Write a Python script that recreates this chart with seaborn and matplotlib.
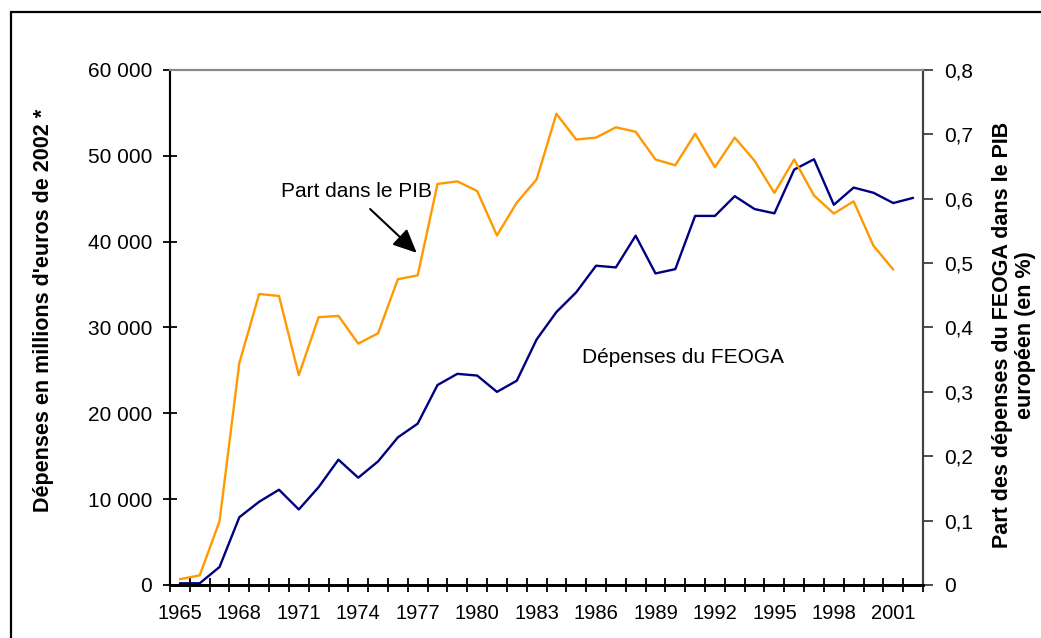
import matplotlib.pyplot as plt
import matplotlib.ticker as mticker
from matplotlib.patches import Rectangle
import numpy as np
import pandas as pd
import seaborn as sns

sns.set_theme(style="white")
plt.rcParams["font.family"] = ["Liberation Sans", "DejaVu Sans"]
plt.rcParams["text.color"] = "black"
plt.rcParams["xtick.color"] = "black"
plt.rcParams["ytick.color"] = "black"
plt.rcParams["axes.labelcolor"] = "black"

# data
years = list(range(1965, 2003))
depenses = [
    200, 200, 2100, 7900, 9700, 11100, 8800, 11400, 14600, 12500,
    14400, 17200, 18800, 23300, 24600, 24400, 22500, 23800, 28600, 31800,
    34100, 37200, 37000, 40700, 36300, 36800, 43000, 43000, 45300, 43800,
    43300, 48400, 49600, 44300, 46300, 45700, 44500, 45100,
]
part_pib = [
    0.009, 0.015, 0.099, 0.345, 0.452, 0.449, 0.326, 0.416, 0.418, 0.375,
    0.391, 0.475, 0.481, 0.623, 0.627, 0.612, 0.543, 0.594, 0.630, 0.732,
    0.692, 0.695, 0.711, 0.704, 0.661, 0.652, 0.701, 0.649, 0.695, 0.659,
    0.609, 0.661, 0.605, 0.577, 0.596, 0.527, 0.490, np.nan,
]
left_ticks = [0, 10000, 20000, 30000, 40000, 50000, 60000]
right_ticks = [0, 0.1, 0.2, 0.3, 0.4, 0.5, 0.6, 0.7, 0.8]
label_years = list(range(1965, 2002, 3))

df = pd.DataFrame({"annee": years, "depenses": depenses, "part": part_pib})

W, H = 1041, 638
fig = plt.figure(figsize=(W / 100, H / 100), dpi=100)
ax = fig.add_axes([170 / W, 1 - 585 / H, 753 / W, 515 / H])
ax2 = ax.twinx()

sns.lineplot(data=df, x="annee", y="depenses", ax=ax, color="#000080", lw=1.7, legend=False)
sns.lineplot(data=df.dropna(), x="annee", y="part", ax=ax2, color="#FF9900", lw=1.7, legend=False)

ax.set_xlim(years[0] - 0.5, years[-1] + 0.5)
ax.set_ylim(0, 60000)
ax2.set_ylim(0, 0.8)

# ticks between categories, labels at every third year
ax.set_xticks(np.arange(years[0] - 0.5, years[-1] + 1, 1.0))
ax.set_xticklabels([])
ax.set_xticks(label_years, minor=True)
ax.set_xticklabels([str(y) for y in label_years], minor=True)
ax.tick_params(axis="x", which="major", direction="inout", length=10, width=1.3, color="black", bottom=True)
ax.tick_params(axis="x", which="minor", length=0, pad=14, labelsize=14.5, bottom=True)

ax.set_yticks(left_ticks)
ax.yaxis.set_major_formatter(mticker.FuncFormatter(lambda v, p: f"{int(v):,}".replace(",", " ")))
ax.tick_params(axis="y", direction="inout", length=10, width=1.3, color="black", pad=8, labelsize=15, left=True)

ax2.set_yticks(right_ticks)
ax2.yaxis.set_major_formatter(mticker.FuncFormatter(lambda v, p: "0" if v == 0 else f"{v:.1f}".replace(".", ",")))
ax2.tick_params(axis="y", direction="out", length=7, width=1.3, color="#404040", pad=8, labelsize=15, right=True)

for a in (ax, ax2):
    a.set_xlabel("")
    a.set_ylabel("")
    a.grid(False)
    a.spines["left"].set_color("black")
    a.spines["left"].set_linewidth(1.5)
    a.spines["bottom"].set_color("black")
    a.spines["bottom"].set_linewidth(2)
    a.spines["top"].set_color("#8a8a8a")
    a.spines["top"].set_linewidth(1.5)
    a.spines["right"].set_color("#404040")
    a.spines["right"].set_linewidth(1.5)

# axis titles
fig.text(44 / W, 1 - 310 / H, "Dépenses en millions d'euros de 2002 *", rotation=90,
         ha="center", va="center", fontsize=15.5, fontweight="bold")
fig.text(1014 / W, 1 - 335 / H, "Part des dépenses du FEOGA dans le PIB\neuropéen (en %)",
         rotation=90, ha="center", va="center", multialignment="center",
         fontsize=15.5, fontweight="bold", linespacing=1.15)

# annotations
ax.text(1973.9, 45800, "Part dans le PIB", ha="center", va="center", fontsize=15)
ax.annotate("", xy=(1976.95, 38700), xytext=(1974.6, 43800),
            arrowprops=dict(arrowstyle="-|>,head_length=1.2,head_width=0.55", color="black", lw=1.5,
                            shrinkA=0, shrinkB=0))
ax.text(1990.4, 26500, "Dépenses du FEOGA", ha="center", va="center", fontsize=15)

# outer frame
fig.add_artist(Rectangle((11 / W, -0.05), 1.2, 1.05 - 12 / H, transform=fig.transFigure,
                         fill=False, ec="black", lw=1.6))

fig.savefig("out.png", dpi=100)
